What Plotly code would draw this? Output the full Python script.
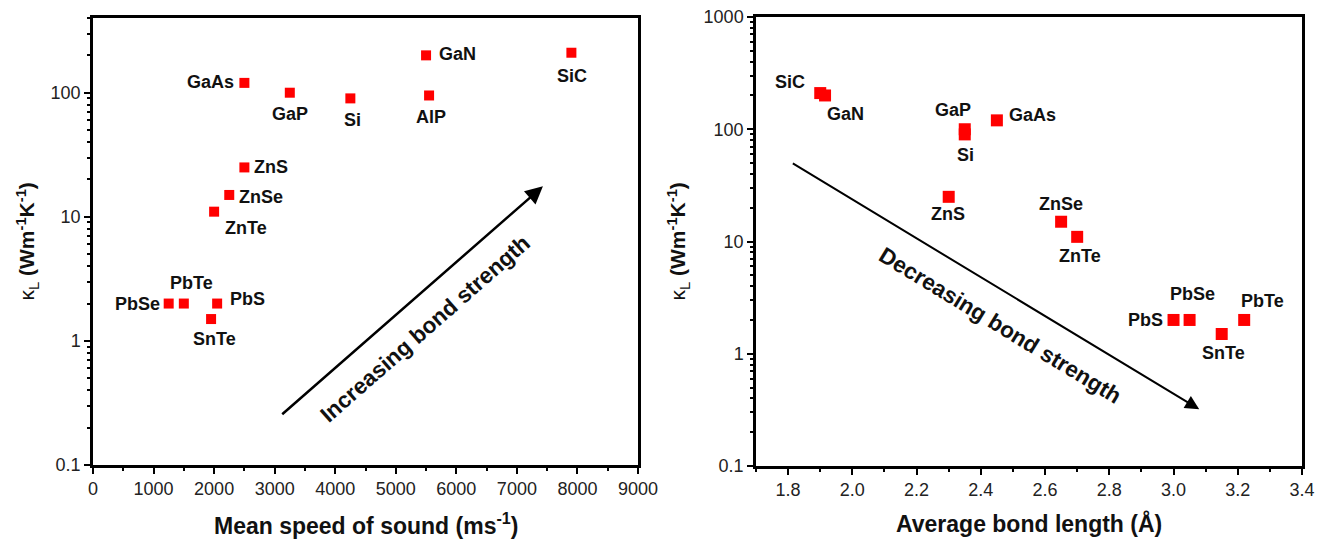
import math
import plotly.graph_objects as go

# ---------------- data ----------------
# Left panel: kappa_L vs mean speed of sound
speed_materials = ["GaAs", "GaP", "Si", "GaN", "AlP", "SiC", "ZnS", "ZnSe", "ZnTe",
                   "PbSe", "PbTe", "PbS", "SnTe"]
speed_values = [2500, 3250, 4250, 5500, 5550, 7900, 2500, 2250, 2000, 1250, 1500, 2050, 1950]
speed_kappa = [120, 100, 90, 200, 95, 210, 25, 15, 11, 2, 2, 2, 1.5]

# Right panel: kappa_L vs average bond length
bond_materials = ["SiC", "GaN", "GaP", "Si", "GaAs", "ZnS", "ZnSe", "ZnTe",
                  "PbS", "PbSe", "SnTe", "PbTe"]
bond_lengths = [1.90, 1.915, 2.35, 2.35, 2.45, 2.30, 2.65, 2.70, 3.00, 3.05, 3.15, 3.22]
bond_kappa = [210, 200, 100, 90, 120, 25, 15, 11, 2, 2, 1.5, 2]

# arrows (tail -> head) and their captions
left_arrow = {"tail": (3100, 0.25), "head": (7430, 17.6), "text": "Increasing bond strength",
              "text_at": (5490, 1.26)}
right_arrow = {"tail": (1.81, 50.5), "head": (3.08, 0.32), "text": "Decreasing bond strength",
               "text_at": (2.46, 1.8)}

left_xticks = [0, 1000, 2000, 3000, 4000, 5000, 6000, 7000, 8000, 9000]
right_xticks = [1.8, 2.0, 2.2, 2.4, 2.6, 2.8, 3.0, 3.2, 3.4]
left_yticks = [0.1, 1, 10, 100]
left_ytext = ["0.1", "1", "10", "100"]
right_yticks = [0.1, 1, 10, 100, 1000]
right_ytext = ["0.1", "1", "10", "100", "1000"]

# ---------------- style ----------------
FONT = "Liberation Sans, Arial, sans-serif"
W, H = 1327, 542
L_DOM = [93 / W, 638 / W]
L_YDOM = [(H - 465) / H, (H - 18) / H]
R_DOM = [756 / W, 1302 / W]
R_YDOM = [(H - 466) / H, (H - 17) / H]

# label placement: (xanchor, xshift, yshift) in px
left_label_pos = {
    "GaAs": ("right", -8, 1), "GaP": ("center", 0, -21), "Si": ("center", 2, -22),
    "GaN": ("left", 11, 1), "AlP": ("center", 2, -22), "SiC": ("center", 1, -23),
    "ZnS": ("left", 8, 0), "ZnSe": ("left", 8, -2), "ZnTe": ("left", 9, -16),
    "PbSe": ("right", -7, 0), "PbTe": ("center", 8, 21), "PbS": ("left", 11, 5),
    "SnTe": ("center", 3, -20),
}
right_label_pos = {
    "SiC": ("right", -13, 11), "GaN": ("left", 0, -19), "GaP": ("center", -12, 19),
    "Si": ("center", 1, -21), "GaAs": ("left", 10, 5), "ZnS": ("center", -1, -17),
    "ZnSe": ("center", 0, 18), "ZnTe": ("center", 3, -19), "PbS": ("right", -9, 0),
    "PbSe": ("center", 3, 26), "SnTe": ("center", 2, -19), "PbTe": ("center", 18, 19),
}

fig = go.Figure()
fig.add_trace(go.Scatter(x=speed_values, y=speed_kappa, mode="markers",
                         marker=dict(symbol="square", size=10, color="#FF0000"),
                         xaxis="x", yaxis="y", hoverinfo="skip"))
fig.add_trace(go.Scatter(x=bond_lengths, y=bond_kappa, mode="markers",
                         marker=dict(symbol="square", size=12, color="#FF0000"),
                         xaxis="x2", yaxis="y2", hoverinfo="skip"))

annotations = []


def add_labels(names, xs, ys, pos, xref, yref):
    for n, xv, yv in zip(names, xs, ys):
        xa, xs_, ys_ = pos[n]
        annotations.append(dict(x=xv, y=math.log10(yv), xref=xref, yref=yref, text="<b>%s</b>" % n,
                                showarrow=False, xanchor=xa, yanchor="middle", xshift=xs_, yshift=ys_,
                                font=dict(family=FONT, size=18, color="#111111")))


add_labels(speed_materials, speed_values, speed_kappa, left_label_pos, "x", "y")
add_labels(bond_materials, bond_lengths, bond_kappa, right_label_pos, "x2", "y2")


def add_arrow(a, xref, yref, width, angle):
    annotations.append(dict(x=a["head"][0], y=math.log10(a["head"][1]),
                            ax=a["tail"][0], ay=math.log10(a["tail"][1]),
                            xref=xref, yref=yref, axref=xref, ayref=yref, text="",
                            showarrow=True, arrowhead=2, arrowsize=1.4, arrowwidth=width,
                            arrowcolor="#000000", standoff=0, startstandoff=0))
    annotations.append(dict(x=a["text_at"][0], y=math.log10(a["text_at"][1]), xref=xref, yref=yref,
                            text="<b>%s</b>" % a["text"], showarrow=False, textangle=angle,
                            xanchor="center", yanchor="middle",
                            font=dict(family=FONT, size=22.5, color="#111111")))


add_arrow(left_arrow, "x", "y", 2.5, -41.3)
add_arrow(right_arrow, "x2", "y2", 2, 31.3)

# axis titles
title_font = dict(family=FONT, size=23, color="#111111")
annotations += [
    dict(x=(L_DOM[0] + L_DOM[1]) / 2, y=(H - 524) / H, xref="paper", yref="paper",
         xanchor="center", yanchor="middle",
         text="<b>Mean speed of sound (ms<sup>-1</sup>)</b>", showarrow=False, font=title_font),
    dict(x=(R_DOM[0] + R_DOM[1]) / 2, y=(H - 523) / H, xref="paper", yref="paper",
         xanchor="center", yanchor="middle",
         text="<b>Average bond length (Å)</b>", showarrow=False, font=title_font),
    dict(x=27 / W, y=(L_YDOM[0] + L_YDOM[1]) / 2, xref="paper", yref="paper", textangle=-90,
         xanchor="center", yanchor="middle",
         text="κ<sub>L</sub> <b>(Wm<sup>-1</sup>K<sup>-1</sup>)</b>", showarrow=False,
         font=dict(family=FONT, size=21, color="#111111")),
    dict(x=678 / W, y=(R_YDOM[0] + R_YDOM[1]) / 2, xref="paper", yref="paper", textangle=-90,
         xanchor="center", yanchor="middle",
         text="κ<sub>L</sub> <b>(Wm<sup>-1</sup>K<sup>-1</sup>)</b>", showarrow=False,
         font=dict(family=FONT, size=21, color="#111111")),
]

tickfont = dict(family=FONT, size=18, color="#222222")


def log_minor(decades):
    vals = []
    for d in decades:
        for k in range(2, 10):
            vals.append(k * d)
    return vals


common = dict(showline=True, linecolor="black", linewidth=2.5, mirror=True, showgrid=False,
              zeroline=False, ticks="outside", ticklen=6, tickwidth=1.8, tickcolor="black",
              tickfont=tickfont, automargin=False)

overlay_common = dict(showline=True, linecolor="black", linewidth=2.5, showgrid=False, zeroline=False,
                      ticks="inside", ticklen=6, tickwidth=1.8, tickcolor="black",
                      showticklabels=False, range=[0, 10], tickmode="array",
                      tickvals=[1, 2, 3, 4, 5, 6, 7, 8, 9], fixedrange=True, automargin=False)

fig.update_layout(
    width=W, height=H, margin=dict(l=0, r=0, t=0, b=0, pad=0, autoexpand=False), showlegend=False,
    plot_bgcolor="white", paper_bgcolor="white",
    xaxis=dict(domain=L_DOM, anchor="y", range=[0, 9000], tickmode="array", tickvals=left_xticks,
               minor=dict(dtick=500, ticks="outside", ticklen=3.5, tickwidth=1.5, tickcolor="black",
                          showgrid=False), **common),
    yaxis=dict(domain=L_YDOM, anchor="x", type="log", range=[-1, math.log10(400)], tickmode="array",
               tickvals=left_yticks, ticktext=left_ytext,
               minor=dict(tickmode="array", tickvals=log_minor([0.1, 1, 10, 100]), ticks="outside",
                          ticklen=3.5, tickwidth=1.5, tickcolor="black", showgrid=False), **common),
    xaxis2=dict(domain=R_DOM, anchor="y2", range=[1.7, 3.4], tickmode="array", tickvals=right_xticks,
                tickformat=".1f",
                minor=dict(dtick=0.1, tick0=1.7, ticks="outside", ticklen=3.5, tickwidth=1.5,
                           tickcolor="black", showgrid=False), **common),
    yaxis2=dict(domain=R_YDOM, anchor="x2", type="log", range=[-1, 3], tickmode="array",
                tickvals=right_yticks, ticktext=right_ytext,
                minor=dict(tickmode="array", tickvals=log_minor([0.1, 1, 10, 100]), ticks="outside",
                           ticklen=3.5, tickwidth=1.5, tickcolor="black", showgrid=False), **common),
    xaxis3=dict(overlaying="x", side="top", anchor="y", **overlay_common),
    yaxis3=dict(overlaying="y", side="right", anchor="x", **overlay_common),
    xaxis4=dict(overlaying="x2", side="top", anchor="y2", **overlay_common),
    yaxis4=dict(overlaying="y2", side="right", anchor="x2", **overlay_common),
    annotations=annotations,
)

fig.write_html("out.html")
